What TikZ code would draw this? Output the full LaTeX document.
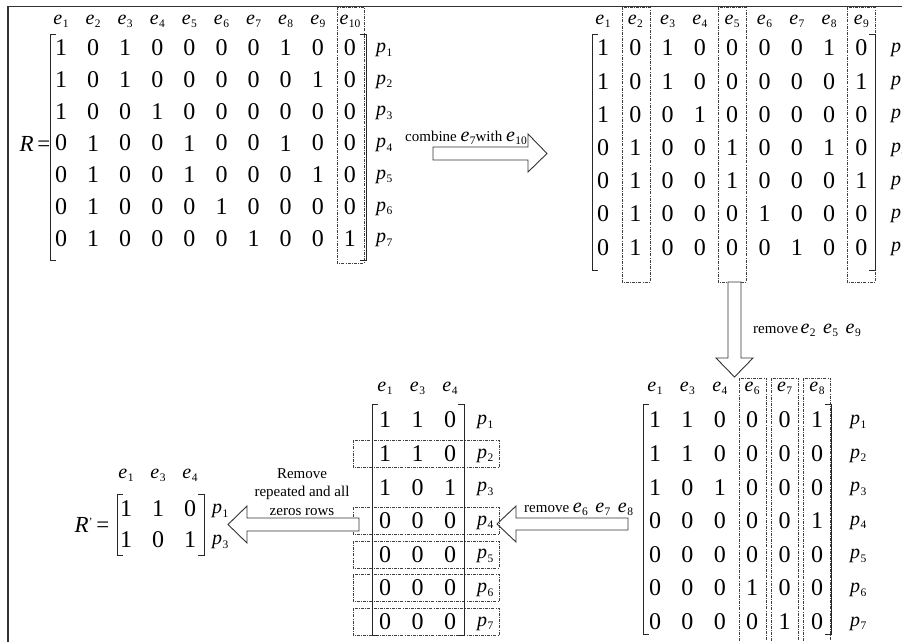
\documentclass[tikz,border=0pt]{standalone}
\usepackage{fontspec}
\setmainfont{Liberation Serif}
\newcommand\lbl[2]{{\fontsize{20}{20}\selectfont\textit{#1}}\kern0.4pt\raisebox{-3.5pt}{\fontsize{11.5}{12}\selectfont #2}}
\newcommand\brkt[4]{%
  \draw[brk] ({#1+6},#3) -- (#1,#3) -- (#1,#4) -- ({#1+6},#4);
  \draw[brk] ({#2-6},#3) -- (#2,#3) -- (#2,#4) -- ({#2-6},#4);}
\begin{document}
\begin{tikzpicture}[x=1pt,y=-1pt,
  dig/.style={font=\fontsize{24}{24}\selectfont, inner sep=0pt},
  lab/.style={inner sep=0pt, anchor=base},
  plab/.style={inner sep=0pt, anchor=base west},
  txt/.style={font=\fontsize{15}{18.5}\selectfont, inner sep=0pt},
  brk/.style={line width=0.9pt, draw=black!85},
  dbox/.style={draw=black!75, line width=0.7pt, dash pattern=on 3pt off 1.2pt on 0.8pt off 1.2pt},
  barrow/.style={draw=black!80, line width=0.9pt, fill=white, line join=miter},
  frame/.style={draw=black!80, line width=1.4pt}]
\useasboundingbox (0,0) rectangle (902,642);
\clip (0,0) rectangle (902,642);
\draw[frame] (8,700) -- (8,6.5) -- (950,6.5);

% ---------- Matrix 1 ----------
\draw[dbox] (337,7) rectangle (364,263);
\brkt{50}{366}{34}{260}
\foreach \row [count=\r] in {{1,0,1,0,0,0,0,1,0,0},{1,0,1,0,0,0,0,0,1,0},{1,0,0,1,0,0,0,0,0,0},{0,1,0,0,1,0,0,1,0,0},{0,1,0,0,1,0,0,0,1,0},{0,1,0,0,0,1,0,0,0,0},{0,1,0,0,0,0,1,0,0,1}}{
  \foreach \v [count=\c] in \row {\node[dig] (a-\r-\c) at ({61+32.1*(\c-1)},{48+31.7*(\r-1)}) {\v};}
  \node[plab] (ap-\r) at (376,{48+31.7*(\r-1)+4.5}) {\lbl{p}{\r}};
}
\foreach \c in {1,...,10}{\node[lab] (ae-\c) at ({61+32.1*(\c-1)},24.5) {\lbl{e}{\c}};}
\node[inner sep=0pt, anchor=base, font=\fontsize{23}{23}\selectfont] (R) at (35,151) {\textit{R}\,=};

% ---------- Arrow 1 ----------
\draw[barrow] (433,147) -- (528,147) -- (528,134) -- (547,153.5) -- (528,172) -- (528,160) -- (433,160) -- cycle;
\node[txt, anchor=base] (t1) at (466,141) {combine \lbl{e}{7}with \lbl{e}{10}};

% ---------- Matrix 2 ----------
\foreach \x in {636,732,861}{\draw[dbox] ({\x-14},7) rectangle ({\x+14},282);}
\brkt{592}{875}{34}{270}
\foreach \row [count=\r] in {{1,0,1,0,0,0,0,1,0},{1,0,1,0,0,0,0,0,1},{1,0,0,1,0,0,0,0,0},{0,1,0,0,1,0,0,1,0},{0,1,0,0,1,0,0,0,1},{0,1,0,0,0,1,0,0,0},{0,1,0,0,0,0,1,0,0}}{
  \foreach \v [count=\c] in \row {\node[dig] (b-\r-\c) at ({603+32.3*(\c-1)},{48+33.2*(\r-1)}) {\v};}
  \node[plab] (bp-\r) at (891,{48+33.2*(\r-1)+4.5}) {\lbl{p}{\r}};
}
\foreach \c in {1,...,9}{\node[lab] (be-\c) at ({603+32.3*(\c-1)},24.5) {\lbl{e}{\c}};}

% ---------- Arrow 2 ----------
\draw[barrow] (728,282) -- (728,358) -- (716,358) -- (734.5,377) -- (753,358) -- (741,358) -- (741,282) -- cycle;
\node[txt, anchor=base west] (t2) at (753,333) {remove\,\lbl{e}{2}\ \ \lbl{e}{5}\ \ \lbl{e}{9}};

% ---------- Matrix 3 ----------
\foreach \x in {753,785,817}{\draw[dbox] ({\x-13.5},378) rectangle ({\x+13.5},660);}
\brkt{643}{831}{404}{634}
\foreach \row [count=\r] in {{1,1,0,0,0,1},{1,1,0,0,0,0},{1,0,1,0,0,0},{0,0,0,0,0,1},{0,0,0,0,0,0},{0,0,0,1,0,0},{0,0,0,0,1,0}}{
  \foreach \v [count=\c] in \row {\node[dig] (c-\r-\c) at ({655+32.4*(\c-1)},{420+33.6*(\r-1)}) {\v};}
  \node[plab] (cp-\r) at (850,{420+33.6*(\r-1)+4.5}) {\lbl{p}{\r}};
}
\foreach \e [count=\c] in {1,3,4,6,7,8}{\node[lab] (ce-\c) at ({655+32.4*(\c-1)},391) {\lbl{e}{\e}};}

% ---------- Arrow 3 ----------
\draw[barrow] (628,518) -- (516,518) -- (516,506) -- (497,524) -- (516,542) -- (516,530) -- (628,530) -- cycle;
\node[txt, anchor=base west] (t3) at (524,512) {remove \lbl{e}{6}\ \ \lbl{e}{7}\ \ \lbl{e}{8}};

% ---------- Matrix 4 ----------
\foreach \r in {2,4,5,6,7}{\draw[dbox] (353,{420+33.6*(\r-1)-13.5}) rectangle (499,{420+33.6*(\r-1)+13.5});}
\brkt{372}{464}{404}{635}
\foreach \row [count=\r] in {{1,1,0},{1,1,0},{1,0,1},{0,0,0},{0,0,0},{0,0,0},{0,0,0}}{
  \foreach \v [count=\c] in \row {\node[dig] (d-\r-\c) at ({385+32.5*(\c-1)},{420+33.6*(\r-1)}) {\v};}
  \node[plab] (dp-\r) at (477,{420+33.6*(\r-1)+4.5}) {\lbl{p}{\r}};
}
\foreach \e [count=\c] in {1,3,4}{\node[lab] (de-\c) at ({385+32.5*(\c-1)},391) {\lbl{e}{\e}};}

% ---------- Arrow 4 ----------
\draw[barrow] (359,518) -- (247,518) -- (247,506) -- (228,524.5) -- (247,543) -- (247,531) -- (359,531) -- cycle;
\node[txt, align=center] (t4) at (302,492) {Remove\\repeated and all\\zeros rows};

% ---------- Matrix 5 ----------
\brkt{117}{204}{494}{555}
\foreach \row [count=\r] in {{1,1,0},{1,0,1}}{
  \foreach \v [count=\c] in \row {\node[dig] (f-\r-\c) at ({126+32*(\c-1)},{509+31*(\r-1)}) {\v};}
}
\node[plab] (fp-1) at (212,{509+4.5}) {\lbl{p}{1}};
\node[plab] (fp-3) at (212,{540+4.5}) {\lbl{p}{3}};
\foreach \e [count=\c] in {1,3,4}{\node[lab] (fe-\c) at ({126+32*(\c-1)},478) {\lbl{e}{\e}};}
\node[inner sep=0pt, anchor=base, font=\fontsize{23}{23}\selectfont] (R2) at (92,532) {\textit{R}\raisebox{7pt}{\fontsize{11}{11}\selectfont '}\,=};
\end{tikzpicture}
\end{document}
